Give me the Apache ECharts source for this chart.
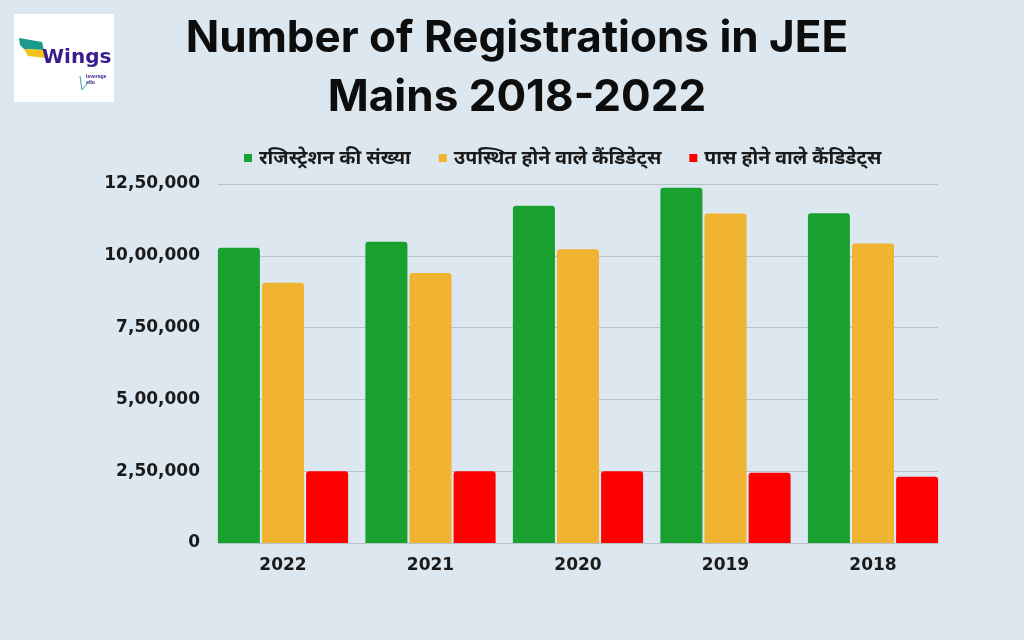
<!DOCTYPE html>
<html>
<head>
<meta charset="utf-8">
<script src="https://cdn.jsdelivr.net/npm/echarts@6/dist/echarts.min.js"></script>
<style>
html,body{margin:0;padding:0;background:#dce7ef;}
#main{width:1024px;height:640px;}
</style>
</head>
<body>
<div id="main"></div>
<script>
var categories = ['2022', '2021', '2020', '2019', '2018'];
var seriesNames = ['रजिस्ट्रेशन की संख्या', 'उपस्थित होने वाले कैंडिडेट्स', 'पास होने वाले कैंडिडेट्स'];
var registered = [1028000, 1049000, 1174000, 1237000, 1148000];
var appeared = [906000, 940000, 1023000, 1147000, 1043000];
var qualified = [250000, 250000, 250000, 245000, 231000];
var yTickLabels = ['0', '2,50,000', '5,00,000', '7,50,000', '10,00,000', '12,50,000'];
var yStep = 250000;
var yMax = 1250000;

var colors = ['#18a12f', '#f0b432', '#ff0000'];
var labelFont = '"DejaVu Sans", sans-serif';

var chart = echarts.init(document.getElementById('main'), null, {renderer: 'canvas'});

function barSeries(name, data, color) {
  return {
    name: name, type: 'bar', data: data,
    xAxisIndex: 0, yAxisIndex: 0,
    barWidth: 42, barGap: '5%',
    itemStyle: {color: color, borderRadius: [3, 3, 0, 0]},
    emphasis: {disabled: true}
  };
}

chart.setOption({
  backgroundColor: '#dce7ef',
  animation: false,
  title: {
    text: 'Number of Registrations in JEE\nMains 2018-2022',
    left: 512, top: 4, textAlign: 'center',
    textStyle: {fontFamily: 'Inter, sans-serif', fontWeight: 'bold', fontSize: 44, lineHeight: 59, color: '#0d0d0d'}
  },
  legend: {
    left: 239, top: 143,
    icon: 'rect', itemWidth: 8, itemHeight: 8, itemGap: 28,
    data: seriesNames,
    textStyle: {fontSize: 19.5, fontWeight: 'bold', color: '#1a1a1a', fontFamily: '"Noto Sans", sans-serif', padding: [0, 0, 0, 2]}
  },
  graphic: [
    {type: 'rect', shape: {x: 14, y: 14, width: 100, height: 88}, style: {fill: '#ffffff'}},
    {type: 'polygon', shape: {points: [[19, 38], [42, 42], [44, 50], [24, 49], [20, 45]]}, style: {fill: '#1a9a8a'}},
    {type: 'polygon', shape: {points: [[24, 49], [44, 50], [46, 58], [28, 56]]}, style: {fill: '#f2c21a'}},
    {type: 'text', style: {x: 42, y: 48, text: 'Wings', fill: '#3a1d8c', font: 'bold 20px "DejaVu Sans", sans-serif'}},
    {type: 'text', style: {x: 86, y: 74, text: 'leverage\nedu', fill: '#3a1d8c', font: 'bold 5px sans-serif', lineHeight: 6}},
    {type: 'polyline', shape: {points: [[80, 76], [82, 90], [90, 80]]}, style: {stroke: '#3aa0c0', lineWidth: 1, fill: null}}
  ],
  grid: [
    {left: 209.25, right: 77.25, top: 184, bottom: 97},
    {left: 218, right: 86, top: 184, bottom: 97}
  ],
  xAxis: [
    {
      gridIndex: 0, type: 'category', data: categories,
      axisLine: {show: false}, axisTick: {show: false},
      axisLabel: {margin: 14, fontSize: 17, fontWeight: 'bold', color: '#1a1a1a', fontFamily: labelFont}
    },
    {gridIndex: 1, type: 'value', min: 0, max: 1, show: false}
  ],
  yAxis: [
    {gridIndex: 0, type: 'value', min: 0, max: yMax, interval: yStep, show: false},
    {
      gridIndex: 1, type: 'value', min: 0, max: yMax, interval: yStep,
      axisLine: {show: false}, axisTick: {show: false},
      splitLine: {lineStyle: {color: '#b7c2ca', width: 1}},
      axisLabel: {
        margin: 18, fontSize: 17, fontWeight: 'bold', color: '#1a1a1a', fontFamily: labelFont,
        formatter: function (v) { return yTickLabels[Math.round(v / yStep)]; }
      }
    }
  ],
  series: [
    barSeries(seriesNames[0], registered, colors[0]),
    barSeries(seriesNames[1], appeared, colors[1]),
    barSeries(seriesNames[2], qualified, colors[2])
  ]
});
</script>
</body>
</html>
